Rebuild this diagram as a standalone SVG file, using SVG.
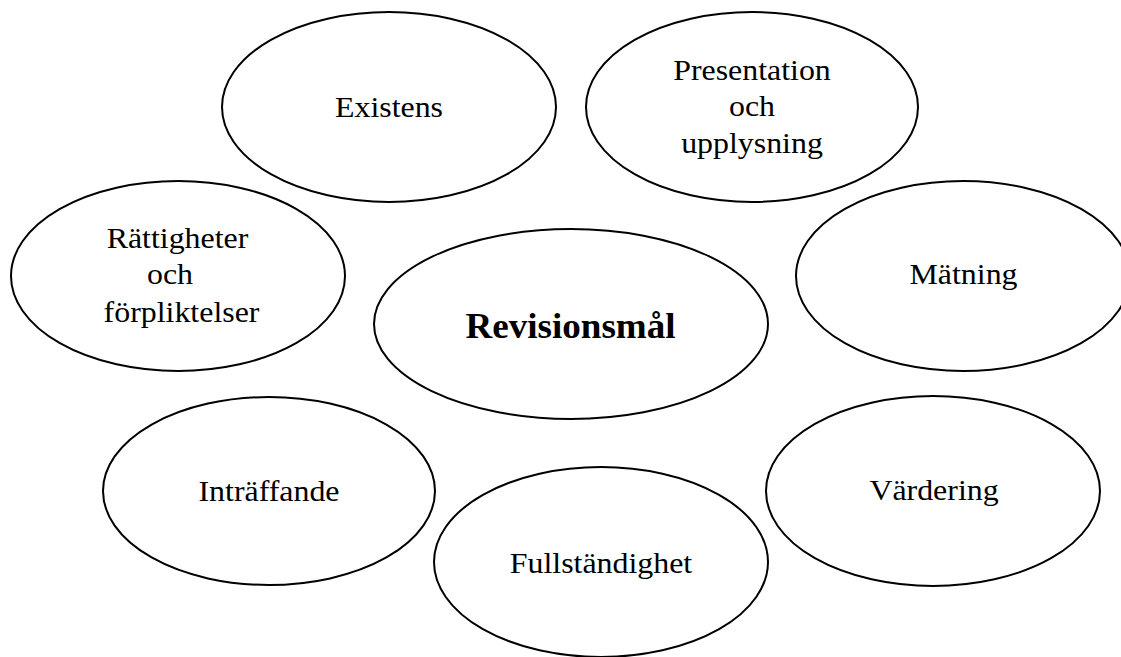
<svg xmlns="http://www.w3.org/2000/svg" width="1121" height="657" viewBox="0 0 1121 657">
<style>
.n{fill:#fff;stroke:#000;stroke-width:2}
.t{font-family:"Liberation Serif","Times New Roman",serif;font-size:29px;fill:#000;text-anchor:middle}
.b{font-weight:bold;font-size:35px}
</style>
<rect width="1121" height="657" fill="#fff"/>
<g id="connectors"/>
<g id="existens"><ellipse class="n" cx="389" cy="107" rx="167" ry="95"/><text class="t" transform="translate(389 116.7) scale(1.1 1)">Existens</text></g>
<g id="presentation"><ellipse class="n" cx="752" cy="107" rx="166" ry="95"/><text class="t" transform="translate(752 80) scale(1.1 1)">Presentation</text><text class="t" transform="translate(752 116) scale(1.1 1)">och</text><text class="t" transform="translate(752 153) scale(1.1 1)">upplysning</text></g>
<g id="rattigheter"><ellipse class="n" cx="178" cy="276" rx="167" ry="95"/><text class="t" transform="translate(177.5 248) scale(1.1 1)">Rättigheter</text><text class="t" transform="translate(170 284) scale(1.1 1)">och</text><text class="t" transform="translate(181.5 321.5) scale(1.1 1)">förpliktelser</text></g>
<g id="revisionsmal"><ellipse class="n" cx="571" cy="324" rx="197" ry="95"/><text class="t b" transform="translate(570.5 337.5) scale(1.06 1)">Revisionsmål</text></g>
<g id="matning"><ellipse class="n" cx="963" cy="276" rx="167" ry="95"/><text class="t" transform="translate(963.5 284) scale(1.1 1)">Mätning</text></g>
<g id="intraffande"><ellipse class="n" cx="269" cy="491" rx="166" ry="94"/><text class="t" transform="translate(269 501) scale(1.1 1)">Inträffande</text></g>
<g id="fullstandighet"><ellipse class="n" cx="601" cy="562" rx="167" ry="95"/><text class="t" transform="translate(601 572.5) scale(1.1 1)">Fullständighet</text></g>
<g id="vardering"><ellipse class="n" cx="933" cy="491" rx="167" ry="95"/><text class="t" transform="translate(934 500) scale(1.1 1)">Värdering</text></g>
</svg>
